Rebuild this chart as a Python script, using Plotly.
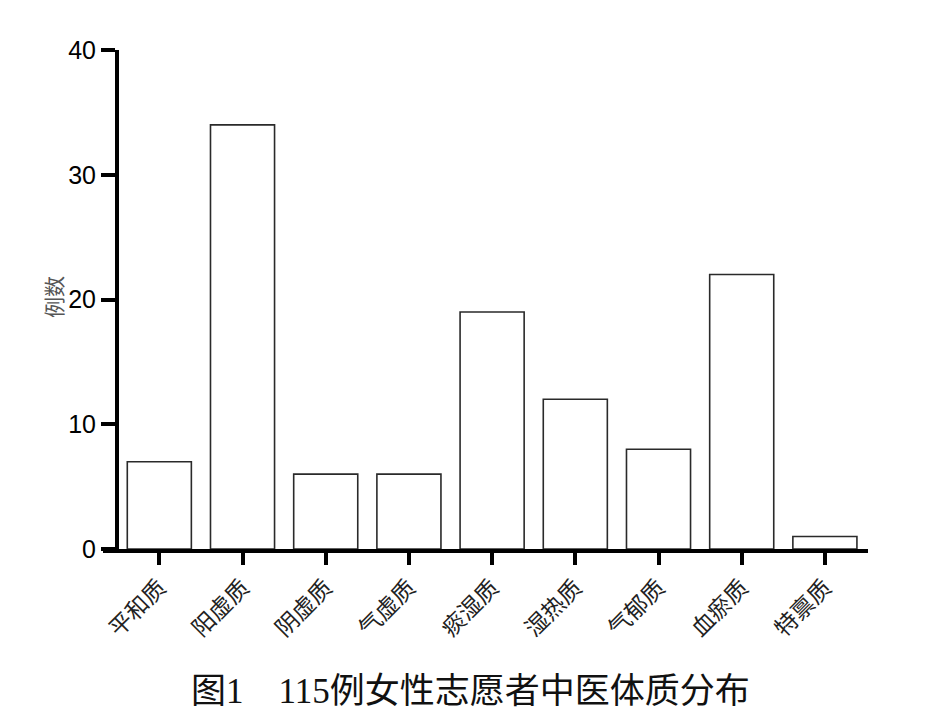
import plotly.graph_objects as go

categories = ["平和质", "阳虚质", "阴虚质", "气虚质", "痰湿质", "湿热质", "气郁质", "血瘀质", "特禀质"]
counts = [7, 34, 6, 6, 19, 12, 8, 22, 1]
y_ticks = [0, 10, 20, 30, 40]
y_title = "例数"
caption = "图1\u2003115例女性志愿者中医体质分布"

OFF = 8  # page body margin
W, H = 951 - 2 * OFF, 725 - 2 * OFF
L = 103 - OFF
T = 50 - OFF
R = W - (868 - OFF)
B = H - (549 - OFF)
plot_w = W - L - R
plot_h = H - T - B

fig = go.Figure()
fig.add_trace(go.Bar(
    x=list(range(len(categories))),
    y=counts,
    width=0.77,
    marker=dict(color="white", line=dict(color="#2a2a2a", width=1.6)),
))

yaxis_pos = (117 - 103) / plot_w

fig.update_layout(
    width=W, height=H,
    margin=dict(l=L, r=R, t=T, b=B),
    plot_bgcolor="white", paper_bgcolor="white",
    showlegend=False,
    xaxis=dict(
        range=[-0.677, 8.518],
        tickmode="array",
        tickvals=list(range(len(categories))),
        ticktext=categories,
        tickangle=-45,
        ticks="outside", ticklen=12, tickwidth=4, tickcolor="black",
        showline=True, linewidth=4, linecolor="black",
        showgrid=False, zeroline=False,
        tickfont=dict(family="Noto Sans CJK SC", size=23, color="#222222"),
    ),
    yaxis=dict(
        range=[0, 40],
        anchor="free", position=yaxis_pos,
        tickvals=y_ticks,
        ticks="outside", ticklen=14, tickwidth=4, tickcolor="black",
        showline=True, linewidth=4, linecolor="black",
        showgrid=False, zeroline=False,
        tickfont=dict(family="Liberation Sans, Arial", size=25, color="black"),
    ),
    annotations=[
        dict(text=y_title, xref="paper", yref="paper",
             x=(53 - 103) / plot_w, y=(549 - 297) / plot_h,
             xanchor="center", yanchor="middle",
             showarrow=False, textangle=-90,
             font=dict(family="Noto Sans CJK SC", size=21, color="#555555")),
        dict(text=caption, xref="paper", yref="paper",
             x=(470 - 103) / plot_w, y=-(691 - 549) / plot_h,
             xanchor="center", yanchor="middle", showarrow=False,
             font=dict(family="Liberation Serif, Noto Sans CJK SC", size=35, color="#111111")),
    ],
)

fig.write_html("out.html")
